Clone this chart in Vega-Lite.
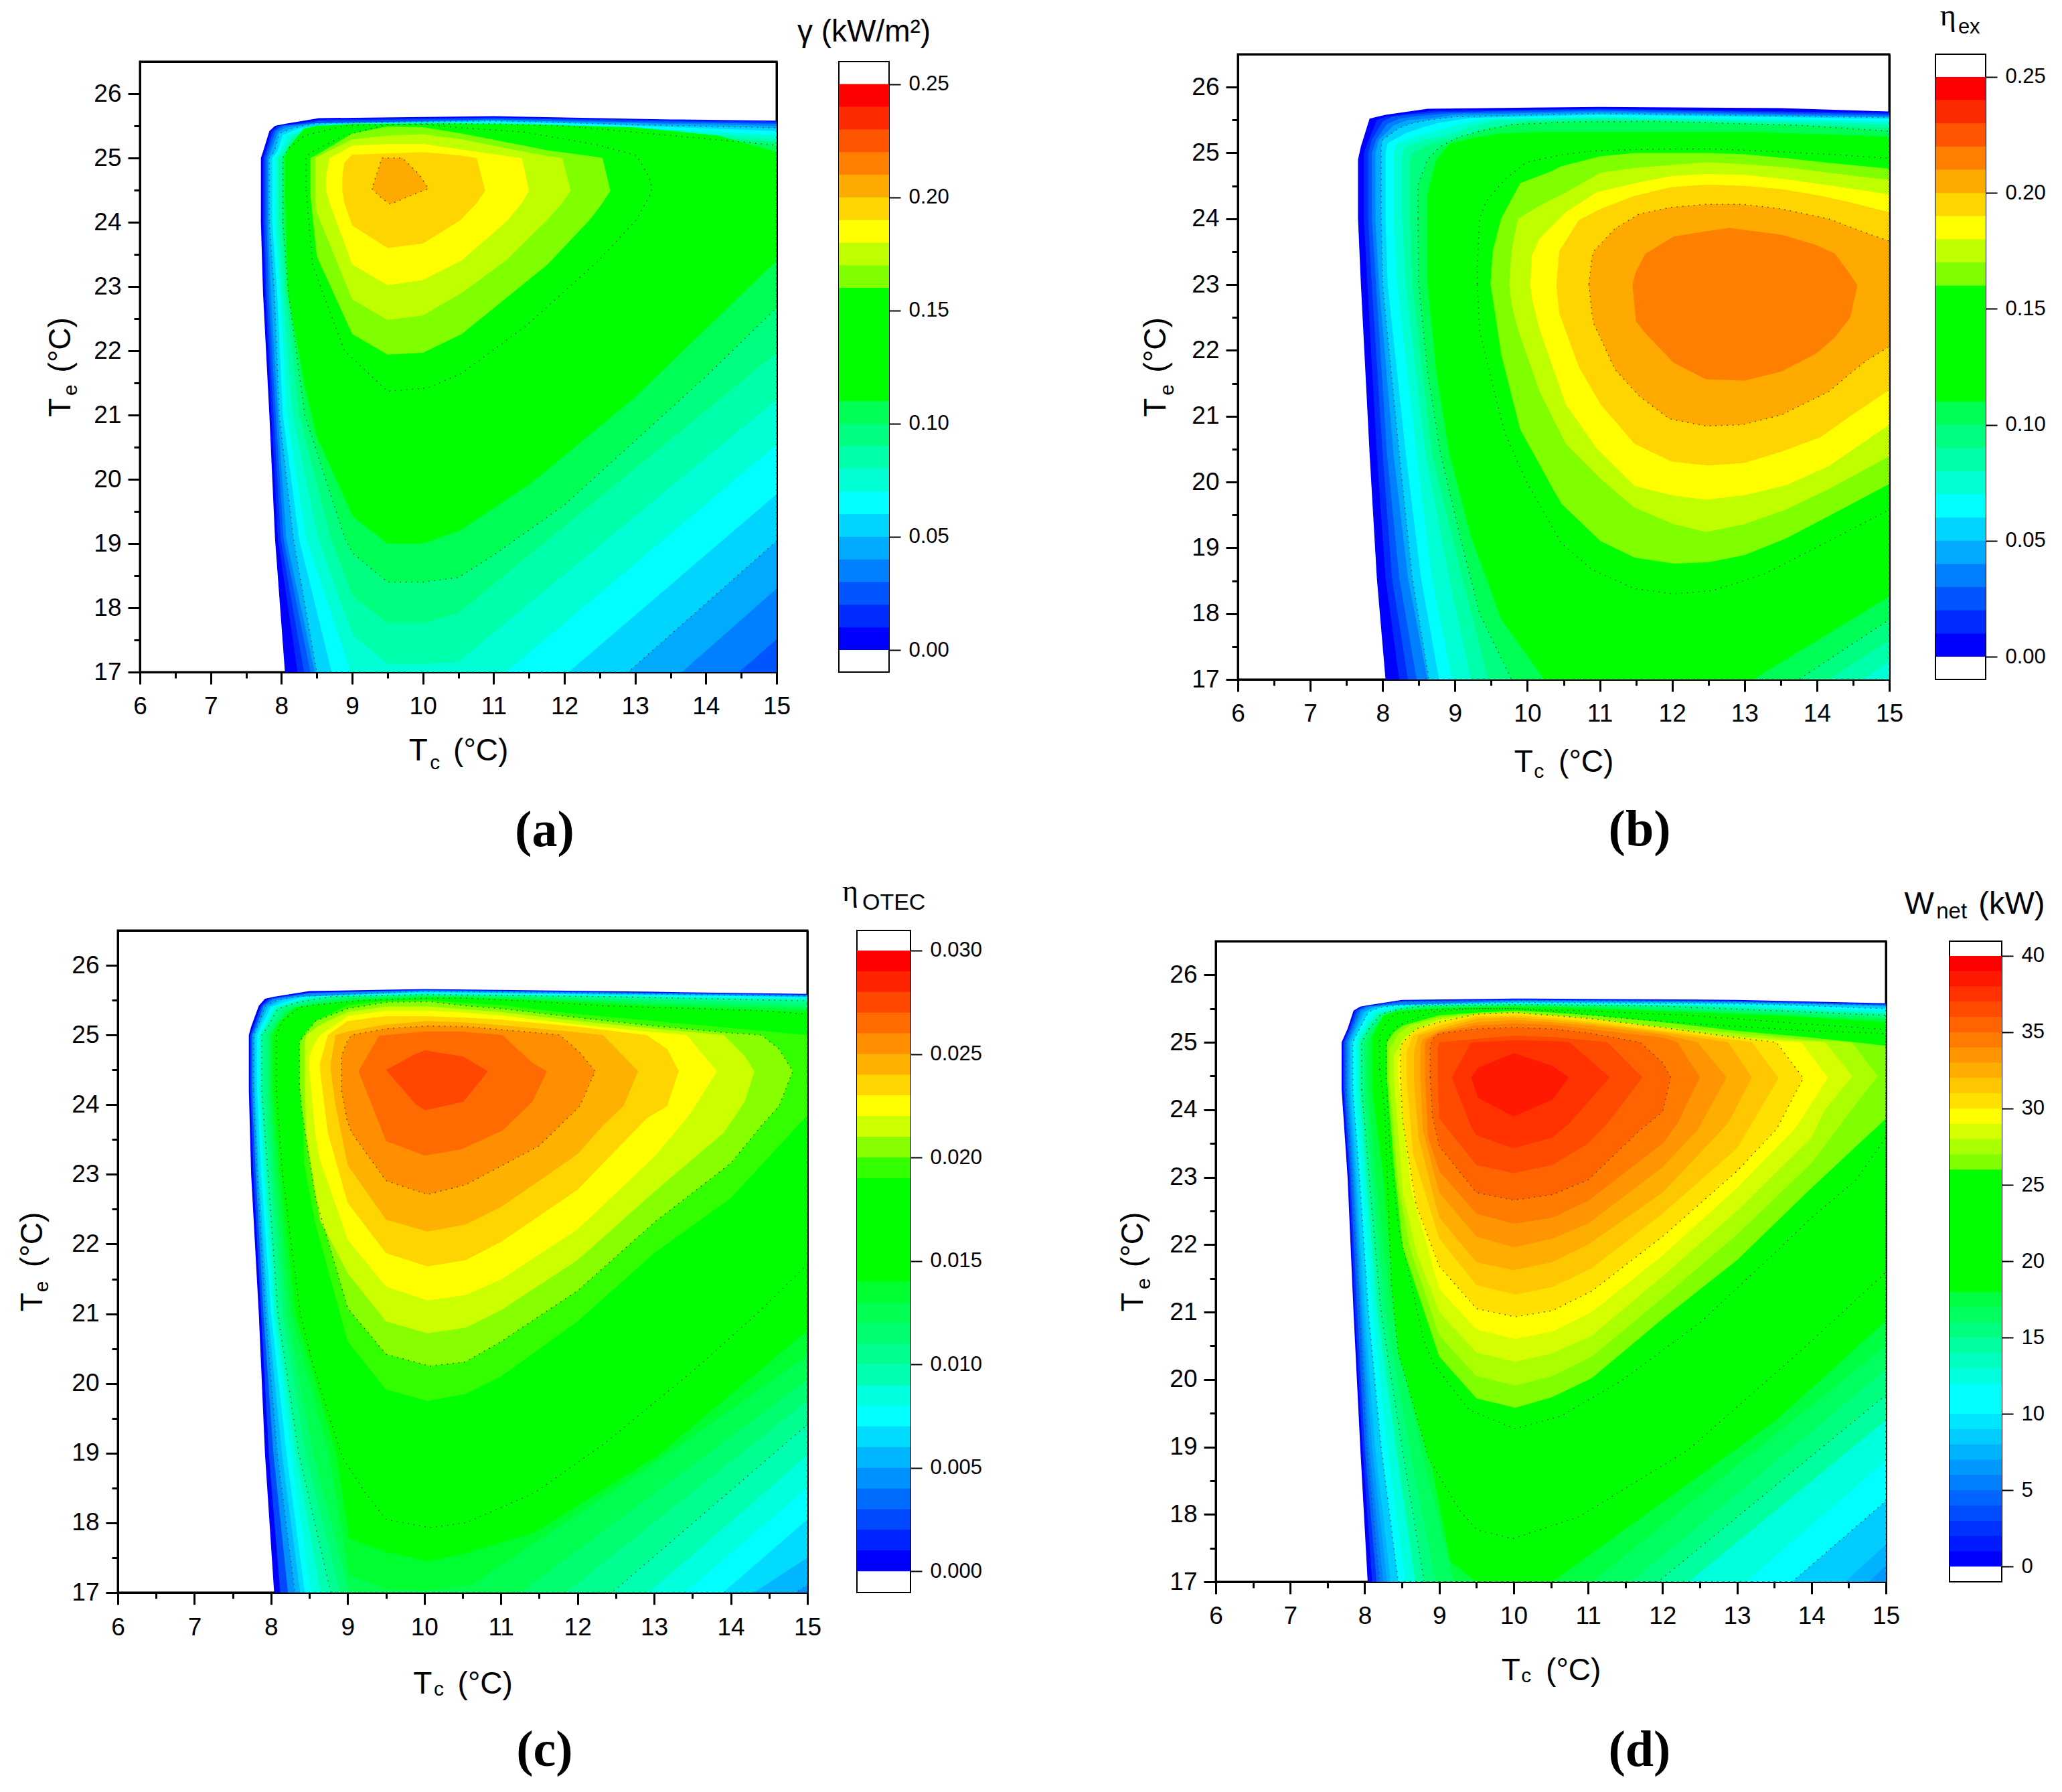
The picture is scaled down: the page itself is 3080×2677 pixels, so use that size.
{"$schema":"https://vega.github.io/schema/vega-lite/v6.json","padding":{"top":0,"left":0,"right":0,"bottom":0},"background":"white","bounds":"full","spacing":26,"resolve":{"scale":{"color":"independent"}},
"config":{"axis":{"grid":false,"labelFont":"Liberation Sans","titleFont":"Liberation Sans","labelFontSize":37,"titleFontSize":46,"titleFontWeight":"normal","labelColor":"black","titleColor":"black","tickColor":"black","domainColor":"black","tickWidth":3,"domainWidth":3,"labelFlush":false,"labelOverlap":false,"zindex":1}},
"datasets":{
"a":[
{"v":0,"x":7.71,"l":24,"h":25},{"v":0,"x":7.74,"l":22.9,"h":25.1},{"v":0,"x":7.83,"l":21,"h":25.42},{"v":0,"x":7.91,"l":19.07,"h":25.5},{"v":0,"x":8.05,"l":17,"h":25.53},{"v":0,"x":8.53,"l":17,"h":25.62},{"v":0,"x":11,"l":17,"h":25.65},{"v":0,"x":13.5,"l":17,"h":25.6},{"v":0,"x":15,"l":17,"h":25.58},
{"v":0.01,"x":7.74,"l":24,"h":25},{"v":0.01,"x":7.77,"l":22.9,"h":25.1},{"v":0.01,"x":7.86,"l":21,"h":25.42},{"v":0.01,"x":7.95,"l":19.07,"h":25.5},{"v":0.01,"x":8.23,"l":17,"h":25.54},{"v":0.01,"x":8.55,"l":17,"h":25.6},{"v":0.01,"x":11,"l":17,"h":25.63},{"v":0.01,"x":13.5,"l":17,"h":25.59},{"v":0.01,"x":15,"l":17,"h":25.57},
{"v":0.02,"x":7.76,"l":24,"h":25},{"v":0.02,"x":7.79,"l":22.9,"h":25.1},{"v":0.02,"x":7.89,"l":21,"h":25.42},{"v":0.02,"x":7.99,"l":19.07,"h":25.5},{"v":0.02,"x":8.32,"l":17,"h":25.54},{"v":0.02,"x":8.55,"l":17,"h":25.58},{"v":0.02,"x":11,"l":17,"h":25.62},{"v":0.02,"x":13.5,"l":17,"h":25.57},{"v":0.02,"x":15,"l":17,"h":25.55},
{"v":0.03,"x":7.79,"l":24,"h":25},{"v":0.03,"x":7.82,"l":22.9,"h":25.1},{"v":0.03,"x":7.92,"l":21,"h":25.42},{"v":0.03,"x":8.03,"l":19.07,"h":25.5},{"v":0.03,"x":8.41,"l":17,"h":25.54},{"v":0.03,"x":11,"l":17,"h":25.6},{"v":0.03,"x":13.5,"l":17,"h":25.55},{"v":0.03,"x":14.47,"l":17,"h":25.54},{"v":0.03,"x":15,"l":17.51,"h":25.53},
{"v":0.04,"x":7.81,"l":24,"h":25},{"v":0.04,"x":7.85,"l":22.9,"h":25.1},{"v":0.04,"x":7.95,"l":21,"h":25.4},{"v":0.04,"x":8.07,"l":19.07,"h":25.48},{"v":0.04,"x":8.47,"l":17,"h":25.54},{"v":0.04,"x":11,"l":17,"h":25.59},{"v":0.04,"x":13.5,"l":17,"h":25.53},{"v":0.04,"x":13.66,"l":17,"h":25.53},{"v":0.04,"x":15,"l":18.3,"h":25.5},
{"v":0.05,"x":7.83,"l":24,"h":25},{"v":0.05,"x":7.9,"l":22.9,"h":25.1},{"v":0.05,"x":7.97,"l":21,"h":25.38},{"v":0.05,"x":8.17,"l":19.07,"h":25.47},{"v":0.05,"x":8.5,"l":17,"h":25.54},{"v":0.05,"x":11,"l":17,"h":25.58},{"v":0.05,"x":12.9,"l":17,"h":25.52},{"v":0.05,"x":15,"l":19.04,"h":25.47},
{"v":0.06,"x":7.87,"l":24,"h":25},{"v":0.06,"x":7.94,"l":22.9,"h":25.1},{"v":0.06,"x":8.02,"l":21,"h":25.36},{"v":0.06,"x":8.25,"l":19.07,"h":25.46},{"v":0.06,"x":8.71,"l":17,"h":25.53},{"v":0.06,"x":11,"l":17,"h":25.57},{"v":0.06,"x":12.06,"l":17,"h":25.54},{"v":0.06,"x":15,"l":19.77,"h":25.42},
{"v":0.07,"x":7.91,"l":24,"h":25},{"v":0.07,"x":7.98,"l":22.9,"h":25.1},{"v":0.07,"x":8.08,"l":21,"h":25.34},{"v":0.07,"x":8.35,"l":19.07,"h":25.46},{"v":0.07,"x":8.98,"l":17,"h":25.52},{"v":0.07,"x":11.18,"l":17,"h":25.56},{"v":0.07,"x":15,"l":20.54,"h":25.36},
{"v":0.08,"x":7.96,"l":24,"h":25},{"v":0.08,"x":8.02,"l":22.9,"h":25.1},{"v":0.08,"x":8.16,"l":21,"h":25.34},{"v":0.08,"x":8.52,"l":19.07,"h":25.5},{"v":0.08,"x":9.01,"l":17.57,"h":25.52},{"v":0.08,"x":9.5,"l":17.13,"h":25.54},{"v":0.08,"x":10,"l":17.13,"h":25.55},{"v":0.08,"x":10.5,"l":17.16,"h":25.55},{"v":0.08,"x":13.5,"l":19.88,"h":25.4},{"v":0.08,"x":15,"l":21.24,"h":25.3},
{"v":0.09,"x":8,"l":24,"h":25},{"v":0.09,"x":8.06,"l":22.9,"h":25.1},{"v":0.09,"x":8.25,"l":21,"h":25.34},{"v":0.09,"x":8.7,"l":19.07,"h":25.5},{"v":0.09,"x":9.01,"l":18.18,"h":25.52},{"v":0.09,"x":9.5,"l":17.76,"h":25.53},{"v":0.09,"x":10,"l":17.76,"h":25.54},{"v":0.09,"x":10.5,"l":17.92,"h":25.54},{"v":0.09,"x":13.5,"l":20.62,"h":25.37},{"v":0.09,"x":15,"l":21.97,"h":25.25},
{"v":0.1,"x":8.02,"l":24,"h":25},{"v":0.1,"x":8.1,"l":22.9,"h":25.15},{"v":0.1,"x":8.33,"l":21,"h":25.35},{"v":0.1,"x":8.9,"l":19.07,"h":25.5},{"v":0.1,"x":9.01,"l":18.85,"h":25.51},{"v":0.1,"x":9.5,"l":18.4,"h":25.52},{"v":0.1,"x":10,"l":18.4,"h":25.53},{"v":0.1,"x":10.5,"l":18.47,"h":25.53},{"v":0.1,"x":11,"l":18.82,"h":25.53},{"v":0.1,"x":12,"l":19.6,"h":25.5},{"v":0.1,"x":13,"l":20.6,"h":25.4},{"v":0.1,"x":14,"l":21.6,"h":25.3},{"v":0.1,"x":15,"l":22.67,"h":25.2},
{"v":0.11,"x":8.05,"l":24.5,"h":25},{"v":0.11,"x":8.09,"l":22.9,"h":25.15},{"v":0.11,"x":8.32,"l":21.5,"h":25.46},{"v":0.11,"x":8.5,"l":20.66,"h":25.5},{"v":0.11,"x":9.01,"l":19.42,"h":25.53},{"v":0.11,"x":9.5,"l":19,"h":25.53},{"v":0.11,"x":10,"l":19,"h":25.53},{"v":0.11,"x":10.52,"l":19.2,"h":25.53},{"v":0.11,"x":11.52,"l":19.93,"h":25.52},{"v":0.11,"x":12.96,"l":21.24,"h":25.48},{"v":0.11,"x":14.17,"l":22.52,"h":25.35},{"v":0.11,"x":15,"l":23.4,"h":25.09},
{"v":0.15,"x":8.35,"l":24.5,"h":25.03},{"v":0.15,"x":8.44,"l":23.34,"h":25.1},{"v":0.15,"x":8.89,"l":22,"h":25.35},{"v":0.15,"x":9.5,"l":21.37,"h":25.52},{"v":0.15,"x":10.07,"l":21.42,"h":25.52},{"v":0.15,"x":10.55,"l":21.65,"h":25.47},{"v":0.15,"x":11.46,"l":22.39,"h":25.4},{"v":0.15,"x":12.48,"l":23.4,"h":25.2},{"v":0.15,"x":13.02,"l":24.04,"h":25.04},{"v":0.15,"x":13.2,"l":24.4,"h":24.7},{"v":0.15,"x":13.24,"l":24.52,"h":24.52},
{"v":0.16,"x":8.41,"l":24.4,"h":25},{"v":0.16,"x":8.5,"l":23.47,"h":25.05},{"v":0.16,"x":9,"l":22.26,"h":25.38},{"v":0.16,"x":9.5,"l":21.94,"h":25.49},{"v":0.16,"x":10,"l":21.97,"h":25.48},{"v":0.16,"x":10.55,"l":22.26,"h":25.38},{"v":0.16,"x":11.76,"l":23.34,"h":25.12},{"v":0.16,"x":12.36,"l":24.04,"h":25.03},{"v":0.16,"x":12.54,"l":24.3,"h":25},{"v":0.16,"x":12.65,"l":24.49,"h":24.49},
{"v":0.17,"x":8.48,"l":24.2,"h":25},{"v":0.17,"x":9,"l":22.8,"h":25.29},{"v":0.17,"x":9.5,"l":22.48,"h":25.35},{"v":0.17,"x":10,"l":22.55,"h":25.37},{"v":0.17,"x":10.55,"l":22.9,"h":25.29},{"v":0.17,"x":11.18,"l":23.41,"h":25.15},{"v":0.17,"x":11.76,"l":24.04,"h":25.03},{"v":0.17,"x":11.97,"l":24.3,"h":25},{"v":0.17,"x":12.09,"l":24.49,"h":24.49},
{"v":0.18,"x":8.63,"l":24.49,"h":24.7},{"v":0.18,"x":8.68,"l":24.3,"h":25},{"v":0.18,"x":9,"l":23.34,"h":25.19},{"v":0.18,"x":9.5,"l":23.02,"h":25.22},{"v":0.18,"x":10,"l":23.1,"h":25.22},{"v":0.18,"x":10.55,"l":23.41,"h":25.13},{"v":0.18,"x":11.18,"l":24.01,"h":25.03},{"v":0.18,"x":11.4,"l":24.3,"h":25},{"v":0.18,"x":11.5,"l":24.49,"h":24.49},
{"v":0.19,"x":8.86,"l":24.49,"h":24.7},{"v":0.19,"x":8.89,"l":24.3,"h":24.93},{"v":0.19,"x":9,"l":23.95,"h":25.05},{"v":0.19,"x":9.5,"l":23.6,"h":25.07},{"v":0.19,"x":10,"l":23.67,"h":25.09},{"v":0.19,"x":10.53,"l":24.03,"h":25.04},{"v":0.19,"x":10.76,"l":24.3,"h":25},{"v":0.19,"x":10.88,"l":24.49,"h":24.49},
{"v":0.2,"x":9.28,"l":24.52,"h":24.52},{"v":0.2,"x":9.42,"l":24.37,"h":25},{"v":0.2,"x":9.54,"l":24.28,"h":25},{"v":0.2,"x":9.71,"l":24.36,"h":25},{"v":0.2,"x":9.95,"l":24.47,"h":24.74},{"v":0.2,"x":10.08,"l":24.52,"h":24.52}],
"b":[
{"v":0,"x":7.66,"l":24,"h":24.9},{"v":0,"x":7.7,"l":23,"h":25.1},{"v":0,"x":7.82,"l":20.43,"h":25.52},{"v":0,"x":7.92,"l":18.54,"h":25.55},{"v":0,"x":8.04,"l":17,"h":25.58},{"v":0,"x":8.62,"l":17,"h":25.67},{"v":0,"x":11,"l":17,"h":25.7},{"v":0,"x":13.5,"l":17,"h":25.68},{"v":0,"x":15,"l":17,"h":25.63},
{"v":0.01,"x":7.74,"l":24,"h":25},{"v":0.01,"x":7.79,"l":23,"h":25.15},{"v":0.01,"x":7.92,"l":20.43,"h":25.5},{"v":0.01,"x":8.04,"l":18.54,"h":25.55},{"v":0.01,"x":8.23,"l":17,"h":25.58},{"v":0.01,"x":8.7,"l":17,"h":25.64},{"v":0.01,"x":11,"l":17,"h":25.67},{"v":0.01,"x":15,"l":17,"h":25.61},
{"v":0.02,"x":7.8,"l":24,"h":25},{"v":0.02,"x":7.85,"l":23,"h":25.2},{"v":0.02,"x":8,"l":20.43,"h":25.48},{"v":0.02,"x":8.13,"l":18.54,"h":25.55},{"v":0.02,"x":8.35,"l":17,"h":25.58},{"v":0.02,"x":8.8,"l":17,"h":25.62},{"v":0.02,"x":11,"l":17,"h":25.66},{"v":0.02,"x":15,"l":17,"h":25.59},
{"v":0.03,"x":7.85,"l":24,"h":25},{"v":0.03,"x":7.91,"l":23,"h":25.2},{"v":0.03,"x":8.06,"l":20.43,"h":25.44},{"v":0.03,"x":8.23,"l":18.54,"h":25.52},{"v":0.03,"x":8.47,"l":17,"h":25.56},{"v":0.03,"x":8.9,"l":17,"h":25.6},{"v":0.03,"x":11,"l":17,"h":25.64},{"v":0.03,"x":15,"l":17,"h":25.57},
{"v":0.04,"x":7.9,"l":24,"h":25},{"v":0.04,"x":7.95,"l":23,"h":25.2},{"v":0.04,"x":8.15,"l":20.43,"h":25.42},{"v":0.04,"x":8.35,"l":18.54,"h":25.5},{"v":0.04,"x":8.62,"l":17,"h":25.52},{"v":0.04,"x":9,"l":17,"h":25.58},{"v":0.04,"x":11,"l":17,"h":25.62},{"v":0.04,"x":15,"l":17,"h":25.55},
{"v":0.05,"x":7.98,"l":24,"h":25.1},{"v":0.05,"x":8,"l":23,"h":25.2},{"v":0.05,"x":8.23,"l":20.43,"h":25.38},{"v":0.05,"x":8.41,"l":18.54,"h":25.45},{"v":0.05,"x":8.64,"l":17,"h":25.5},{"v":0.05,"x":9,"l":17,"h":25.55},{"v":0.05,"x":11,"l":17,"h":25.6},{"v":0.05,"x":15,"l":17,"h":25.54},
{"v":0.06,"x":8.04,"l":24,"h":25},{"v":0.06,"x":8.07,"l":23,"h":25.15},{"v":0.06,"x":8.32,"l":20.43,"h":25.3},{"v":0.06,"x":8.53,"l":18.54,"h":25.38},{"v":0.06,"x":8.78,"l":17,"h":25.46},{"v":0.06,"x":9.2,"l":17,"h":25.53},{"v":0.06,"x":11,"l":17,"h":25.58},{"v":0.06,"x":15,"l":17,"h":25.52},
{"v":0.07,"x":8.15,"l":24,"h":25},{"v":0.07,"x":8.2,"l":23,"h":25.15},{"v":0.07,"x":8.47,"l":20.43,"h":25.25},{"v":0.07,"x":8.68,"l":18.54,"h":25.32},{"v":0.07,"x":8.96,"l":17,"h":25.4},{"v":0.07,"x":9.4,"l":17,"h":25.52},{"v":0.07,"x":11,"l":17,"h":25.55},{"v":0.07,"x":15,"l":17,"h":25.48},
{"v":0.08,"x":8.27,"l":24,"h":24.95},{"v":0.08,"x":8.32,"l":23,"h":25.1},{"v":0.08,"x":8.59,"l":20.43,"h":25.2},{"v":0.08,"x":8.92,"l":18.54,"h":25.28},{"v":0.08,"x":9.22,"l":17,"h":25.4},{"v":0.08,"x":9.6,"l":17,"h":25.5},{"v":0.08,"x":11,"l":17,"h":25.53},{"v":0.08,"x":14.64,"l":17,"h":25.45},{"v":0.08,"x":15,"l":17.28,"h":25.43},
{"v":0.09,"x":8.38,"l":24,"h":24.9},{"v":0.09,"x":8.41,"l":23,"h":25},{"v":0.09,"x":8.68,"l":20.43,"h":25.15},{"v":0.09,"x":9.1,"l":18.54,"h":25.25},{"v":0.09,"x":9.46,"l":17,"h":25.38},{"v":0.09,"x":10,"l":17,"h":25.48},{"v":0.09,"x":11,"l":17,"h":25.5},{"v":0.09,"x":14.16,"l":17,"h":25.42},{"v":0.09,"x":15,"l":17.6,"h":25.38},
{"v":0.1,"x":8.49,"l":24,"h":24.5},{"v":0.1,"x":8.5,"l":23,"h":24.55},{"v":0.1,"x":8.62,"l":21.68,"h":24.9},{"v":0.1,"x":8.8,"l":20.43,"h":25.1},{"v":0.1,"x":8.98,"l":19.6,"h":25.2},{"v":0.1,"x":9.07,"l":19.17,"h":25.25},{"v":0.1,"x":9.34,"l":18,"h":25.33},{"v":0.1,"x":9.78,"l":17,"h":25.43},{"v":0.1,"x":10.59,"l":17,"h":25.47},{"v":0.1,"x":11.78,"l":17,"h":25.48},{"v":0.1,"x":13.75,"l":17,"h":25.42},{"v":0.1,"x":15,"l":17.91,"h":25.33},
{"v":0.11,"x":8.62,"l":23,"h":24.4},{"v":0.11,"x":8.74,"l":21.68,"h":24.89},{"v":0.11,"x":8.92,"l":20.43,"h":25.14},{"v":0.11,"x":9.22,"l":19.17,"h":25.22},{"v":0.11,"x":9.64,"l":17.91,"h":25.3},{"v":0.11,"x":10.23,"l":17,"h":25.32},{"v":0.11,"x":11,"l":17,"h":25.32},{"v":0.11,"x":13.12,"l":17,"h":25.32},{"v":0.11,"x":15,"l":18.26,"h":25.25},
{"v":0.15,"x":9.31,"l":23,"h":23.3},{"v":0.15,"x":9.34,"l":22.3,"h":24.01},{"v":0.15,"x":9.43,"l":21.87,"h":24.26},{"v":0.15,"x":9.69,"l":20.74,"h":24.6},{"v":0.15,"x":9.99,"l":20,"h":24.86},{"v":0.15,"x":10.47,"l":19.07,"h":24.97},{"v":0.15,"x":10.89,"l":18.67,"h":25.03},{"v":0.15,"x":11.48,"l":18.38,"h":25.05},{"v":0.15,"x":12.02,"l":18.3,"h":25.06},{"v":0.15,"x":12.56,"l":18.35,"h":25.06},{"v":0.15,"x":13.27,"l":18.6,"h":25.03},{"v":0.15,"x":14.16,"l":19.1,"h":24.98},{"v":0.15,"x":15,"l":19.58,"h":24.92},
{"v":0.16,"x":9.49,"l":23,"h":23},{"v":0.16,"x":9.52,"l":22.8,"h":23.51},{"v":0.16,"x":9.64,"l":21.93,"h":24.01},{"v":0.16,"x":9.9,"l":20.8,"h":24.54},{"v":0.16,"x":10.35,"l":19.9,"h":24.73},{"v":0.16,"x":10.47,"l":19.67,"h":24.8},{"v":0.16,"x":11.01,"l":19.1,"h":24.95},{"v":0.16,"x":11.48,"l":18.85,"h":25},{"v":0.16,"x":12.02,"l":18.76,"h":25},{"v":0.16,"x":12.5,"l":18.78,"h":25},{"v":0.16,"x":13,"l":18.89,"h":24.98},{"v":0.16,"x":13.57,"l":19.14,"h":24.92},{"v":0.16,"x":14.16,"l":19.48,"h":24.85},{"v":0.16,"x":15,"l":19.97,"h":24.76},
{"v":0.17,"x":9.75,"l":23,"h":23},{"v":0.17,"x":9.78,"l":22.7,"h":23.51},{"v":0.17,"x":9.87,"l":22.31,"h":24},{"v":0.17,"x":10.17,"l":21.37,"h":24.2},{"v":0.17,"x":10.53,"l":20.58,"h":24.4},{"v":0.17,"x":11.01,"l":20.05,"h":24.7},{"v":0.17,"x":11.48,"l":19.61,"h":24.77},{"v":0.17,"x":12.02,"l":19.36,"h":24.82},{"v":0.17,"x":12.47,"l":19.24,"h":24.86},{"v":0.17,"x":13,"l":19.36,"h":24.83},{"v":0.17,"x":13.57,"l":19.58,"h":24.78},{"v":0.17,"x":14.16,"l":19.89,"h":24.7},{"v":0.17,"x":15,"l":20.39,"h":24.59},
{"v":0.18,"x":10.04,"l":23,"h":23},{"v":0.18,"x":10.06,"l":22.8,"h":23.44},{"v":0.18,"x":10.17,"l":22.31,"h":23.7},{"v":0.18,"x":10.53,"l":21.18,"h":24.1},{"v":0.18,"x":10.95,"l":20.52,"h":24.4},{"v":0.18,"x":11.48,"l":19.94,"h":24.54},{"v":0.18,"x":11.99,"l":19.8,"h":24.65},{"v":0.18,"x":12.47,"l":19.73,"h":24.68},{"v":0.18,"x":13,"l":19.8,"h":24.67},{"v":0.18,"x":13.57,"l":19.95,"h":24.6},{"v":0.18,"x":14.16,"l":20.24,"h":24.51},{"v":0.18,"x":15,"l":20.87,"h":24.37},
{"v":0.19,"x":10.4,"l":23,"h":23},{"v":0.19,"x":10.44,"l":22.56,"h":23.51},{"v":0.19,"x":10.71,"l":21.75,"h":23.98},{"v":0.19,"x":11.01,"l":21.18,"h":24.15},{"v":0.19,"x":11.48,"l":20.58,"h":24.35},{"v":0.19,"x":11.99,"l":20.31,"h":24.48},{"v":0.19,"x":12.5,"l":20.25,"h":24.52},{"v":0.19,"x":13,"l":20.29,"h":24.5},{"v":0.19,"x":13.51,"l":20.46,"h":24.45},{"v":0.19,"x":14.05,"l":20.68,"h":24.35},{"v":0.19,"x":14.46,"l":21,"h":24.25},{"v":0.19,"x":15,"l":21.4,"h":24.1},
{"v":0.2,"x":10.85,"l":23,"h":23},{"v":0.2,"x":10.89,"l":22.56,"h":23.4},{"v":0.2,"x":10.92,"l":22.4,"h":23.51},{"v":0.2,"x":11.21,"l":21.71,"h":23.85},{"v":0.2,"x":11.54,"l":21.31,"h":24.07},{"v":0.2,"x":11.96,"l":20.96,"h":24.17},{"v":0.2,"x":12.47,"l":20.85,"h":24.22},{"v":0.2,"x":12.97,"l":20.87,"h":24.22},{"v":0.2,"x":13.51,"l":21.02,"h":24.15},{"v":0.2,"x":14.16,"l":21.37,"h":24},{"v":0.2,"x":14.64,"l":21.81,"h":23.8},{"v":0.2,"x":15,"l":22.06,"h":23.66},
{"v":0.21,"x":11.45,"l":23,"h":23},{"v":0.21,"x":11.5,"l":22.44,"h":23.2},{"v":0.21,"x":11.63,"l":22.26,"h":23.47},{"v":0.21,"x":12.02,"l":21.81,"h":23.73},{"v":0.21,"x":12.47,"l":21.56,"h":23.81},{"v":0.21,"x":12.79,"l":21.55,"h":23.86},{"v":0.21,"x":13,"l":21.54,"h":23.83},{"v":0.21,"x":13.51,"l":21.68,"h":23.76},{"v":0.21,"x":13.99,"l":21.95,"h":23.6},{"v":0.21,"x":14.25,"l":22.2,"h":23.47},{"v":0.21,"x":14.46,"l":22.5,"h":23.15},{"v":0.21,"x":14.56,"l":22.99,"h":22.99}],
"c":[
{"v":0,"x":7.71,"l":24.2,"h":25},{"v":0,"x":7.74,"l":23,"h":25.12},{"v":0,"x":7.84,"l":21,"h":25.42},{"v":0,"x":7.92,"l":19,"h":25.52},{"v":0,"x":8.04,"l":17,"h":25.55},{"v":0,"x":8.5,"l":17,"h":25.63},{"v":0,"x":10,"l":17,"h":25.66},{"v":0,"x":13,"l":17,"h":25.62},{"v":0,"x":15,"l":17,"h":25.59},
{"v":0.002,"x":7.73,"l":24.2,"h":25},{"v":0.002,"x":7.77,"l":23,"h":25.12},{"v":0.002,"x":7.87,"l":21,"h":25.42},{"v":0.002,"x":7.97,"l":19,"h":25.52},{"v":0.002,"x":8.12,"l":17,"h":25.55},{"v":0.002,"x":8.5,"l":17,"h":25.61},{"v":0.002,"x":10,"l":17,"h":25.65},{"v":0.002,"x":13,"l":17,"h":25.61},{"v":0.002,"x":15,"l":17,"h":25.58},
{"v":0.004,"x":7.75,"l":24.2,"h":25},{"v":0.004,"x":7.8,"l":23,"h":25.12},{"v":0.004,"x":7.9,"l":21,"h":25.42},{"v":0.004,"x":8.03,"l":19,"h":25.52},{"v":0.004,"x":8.22,"l":17,"h":25.55},{"v":0.004,"x":8.5,"l":17,"h":25.6},{"v":0.004,"x":10,"l":17,"h":25.64},{"v":0.004,"x":13,"l":17,"h":25.6},{"v":0.004,"x":15,"l":17,"h":25.57},
{"v":0.005,"x":7.77,"l":24.2,"h":25},{"v":0.005,"x":7.82,"l":23,"h":25.12},{"v":0.005,"x":7.93,"l":21,"h":25.42},{"v":0.005,"x":8.08,"l":19,"h":25.5},{"v":0.005,"x":8.31,"l":17,"h":25.55},{"v":0.005,"x":10,"l":17,"h":25.63},{"v":0.005,"x":13,"l":17,"h":25.59},{"v":0.005,"x":14.84,"l":17,"h":25.56},{"v":0.005,"x":15,"l":17.1,"h":25.56},
{"v":0.006,"x":7.79,"l":24.2,"h":25},{"v":0.006,"x":7.84,"l":23,"h":25.12},{"v":0.006,"x":7.96,"l":21,"h":25.4},{"v":0.006,"x":8.14,"l":19,"h":25.5},{"v":0.006,"x":8.38,"l":17,"h":25.55},{"v":0.006,"x":10,"l":17,"h":25.62},{"v":0.006,"x":13,"l":17,"h":25.58},{"v":0.006,"x":14.3,"l":17,"h":25.56},{"v":0.006,"x":15,"l":17.5,"h":25.55},
{"v":0.007,"x":7.82,"l":24.2,"h":25},{"v":0.007,"x":7.87,"l":23,"h":25.12},{"v":0.007,"x":8,"l":21,"h":25.4},{"v":0.007,"x":8.2,"l":19,"h":25.48},{"v":0.007,"x":8.44,"l":17,"h":25.55},{"v":0.007,"x":10,"l":17,"h":25.61},{"v":0.007,"x":13,"l":17,"h":25.57},{"v":0.007,"x":13.9,"l":17,"h":25.56},{"v":0.007,"x":15,"l":18.05,"h":25.54},
{"v":0.008,"x":7.84,"l":24.2,"h":25},{"v":0.008,"x":7.9,"l":23,"h":25.12},{"v":0.008,"x":8.03,"l":21,"h":25.4},{"v":0.008,"x":8.26,"l":19,"h":25.48},{"v":0.008,"x":8.52,"l":17,"h":25.55},{"v":0.008,"x":10,"l":17,"h":25.6},{"v":0.008,"x":13,"l":17,"h":25.56},{"v":0.008,"x":13.4,"l":17,"h":25.55},{"v":0.008,"x":15,"l":18.5,"h":25.53},
{"v":0.009,"x":7.86,"l":24.2,"h":25},{"v":0.009,"x":7.93,"l":23,"h":25.12},{"v":0.009,"x":8.06,"l":21,"h":25.38},{"v":0.009,"x":8.32,"l":19,"h":25.48},{"v":0.009,"x":8.65,"l":17,"h":25.55},{"v":0.009,"x":10,"l":17,"h":25.59},{"v":0.009,"x":12.93,"l":17,"h":25.55},{"v":0.009,"x":15,"l":18.97,"h":25.51},
{"v":0.01,"x":7.88,"l":24.2,"h":25},{"v":0.01,"x":7.96,"l":23,"h":25.12},{"v":0.01,"x":8.09,"l":21,"h":25.38},{"v":0.01,"x":8.36,"l":19,"h":25.47},{"v":0.01,"x":8.78,"l":17,"h":25.55},{"v":0.01,"x":10,"l":17,"h":25.58},{"v":0.01,"x":12.45,"l":17,"h":25.55},{"v":0.01,"x":15,"l":19.41,"h":25.49},
{"v":0.011,"x":7.93,"l":24.2,"h":25},{"v":0.011,"x":8,"l":23,"h":25.12},{"v":0.011,"x":8.15,"l":21,"h":25.38},{"v":0.011,"x":8.45,"l":19,"h":25.47},{"v":0.011,"x":8.9,"l":17,"h":25.54},{"v":0.011,"x":10,"l":17,"h":25.57},{"v":0.011,"x":11.85,"l":17,"h":25.54},{"v":0.011,"x":15,"l":19.75,"h":25.45},
{"v":0.012,"x":7.97,"l":24.2,"h":25},{"v":0.012,"x":8.04,"l":23,"h":25.12},{"v":0.012,"x":8.2,"l":21,"h":25.36},{"v":0.012,"x":8.55,"l":19,"h":25.46},{"v":0.012,"x":9.02,"l":17,"h":25.53},{"v":0.012,"x":10,"l":17,"h":25.56},{"v":0.012,"x":11.26,"l":17,"h":25.54},{"v":0.012,"x":15,"l":20.05,"h":25.4},
{"v":0.013,"x":8,"l":24.2,"h":25},{"v":0.013,"x":8.08,"l":23,"h":25.15},{"v":0.013,"x":8.26,"l":21,"h":25.36},{"v":0.013,"x":8.75,"l":19,"h":25.46},{"v":0.013,"x":9.02,"l":17.25,"h":25.5},{"v":0.013,"x":9.5,"l":17.05,"h":25.53},{"v":0.013,"x":10,"l":17.03,"h":25.55},{"v":0.013,"x":10.6,"l":17.1,"h":25.54},{"v":0.013,"x":13,"l":18.85,"h":25.44},{"v":0.013,"x":15,"l":20.4,"h":25.37},
{"v":0.014,"x":8.03,"l":24.2,"h":25},{"v":0.014,"x":8.12,"l":23,"h":25.2},{"v":0.014,"x":8.32,"l":21,"h":25.4},{"v":0.014,"x":8.85,"l":19,"h":25.46},{"v":0.014,"x":9.02,"l":17.77,"h":25.48},{"v":0.014,"x":9.5,"l":17.58,"h":25.5},{"v":0.014,"x":10.04,"l":17.45,"h":25.54},{"v":0.014,"x":10.5,"l":17.55,"h":25.54},{"v":0.014,"x":11.44,"l":17.86,"h":25.5},{"v":0.014,"x":13.05,"l":18.97,"h":25.41},{"v":0.014,"x":15,"l":20.76,"h":25.33},
{"v":0.015,"x":8.07,"l":24.2,"h":25},{"v":0.015,"x":8.15,"l":23,"h":25.2},{"v":0.015,"x":8.38,"l":21,"h":25.4},{"v":0.015,"x":8.55,"l":20.26,"h":25.43},{"v":0.015,"x":8.93,"l":18.94,"h":25.47},{"v":0.015,"x":9.23,"l":18.43,"h":25.5},{"v":0.015,"x":9.5,"l":18.05,"h":25.51},{"v":0.015,"x":10.07,"l":17.93,"h":25.53},{"v":0.015,"x":10.54,"l":18,"h":25.53},{"v":0.015,"x":11.44,"l":18.43,"h":25.48},{"v":0.015,"x":12.33,"l":19.12,"h":25.42},{"v":0.015,"x":13.53,"l":20.2,"h":25.38},{"v":0.015,"x":14.36,"l":21.02,"h":25.35},{"v":0.015,"x":15,"l":21.71,"h":25.3},
{"v":0.019,"x":8.4,"l":24.5,"h":24.9},{"v":0.019,"x":8.43,"l":23.16,"h":25.02},{"v":0.019,"x":8.58,"l":22.28,"h":25.2},{"v":0.019,"x":9,"l":20.6,"h":25.43},{"v":0.019,"x":9.5,"l":19.91,"h":25.49},{"v":0.019,"x":10.04,"l":19.75,"h":25.5},{"v":0.019,"x":10.54,"l":19.85,"h":25.46},{"v":0.019,"x":11,"l":20.1,"h":25.43},{"v":0.019,"x":12,"l":20.89,"h":25.3},{"v":0.019,"x":13,"l":21.87,"h":25.2},{"v":0.019,"x":14,"l":22.66,"h":25.1},{"v":0.019,"x":15,"l":23.85,"h":25},
{"v":0.02,"x":8.37,"l":24.3,"h":24.9},{"v":0.02,"x":8.4,"l":23.92,"h":24.95},{"v":0.02,"x":8.58,"l":22.66,"h":25.2},{"v":0.02,"x":9,"l":21.08,"h":25.38},{"v":0.02,"x":9.5,"l":20.42,"h":25.47},{"v":0.02,"x":10.07,"l":20.25,"h":25.48},{"v":0.02,"x":10.54,"l":20.31,"h":25.42},{"v":0.02,"x":11,"l":20.6,"h":25.38},{"v":0.02,"x":12,"l":21.33,"h":25.25},{"v":0.02,"x":13,"l":22.31,"h":25.13},{"v":0.02,"x":14,"l":23.16,"h":25.03},{"v":0.02,"x":14.4,"l":23.7,"h":25},{"v":0.02,"x":14.63,"l":23.98,"h":24.8},{"v":0.02,"x":14.81,"l":24.48,"h":24.48},
{"v":0.021,"x":8.44,"l":24.3,"h":24.9},{"v":0.021,"x":8.46,"l":23.54,"h":25},{"v":0.021,"x":8.64,"l":22.34,"h":25.15},{"v":0.021,"x":9,"l":21.58,"h":25.33},{"v":0.021,"x":9.5,"l":20.89,"h":25.41},{"v":0.021,"x":10.04,"l":20.72,"h":25.41},{"v":0.021,"x":10.54,"l":20.8,"h":25.37},{"v":0.021,"x":11,"l":21.05,"h":25.33},{"v":0.021,"x":12,"l":21.77,"h":25.2},{"v":0.021,"x":13,"l":22.75,"h":25.09},{"v":0.021,"x":13.91,"l":23.6,"h":25},{"v":0.021,"x":14.18,"l":24.04,"h":24.7},{"v":0.021,"x":14.31,"l":24.48,"h":24.48},
{"v":0.022,"x":8.5,"l":24.48,"h":24.7},{"v":0.022,"x":8.58,"l":23.54,"h":24.9},{"v":0.022,"x":8.64,"l":23.2,"h":25},{"v":0.022,"x":9,"l":22.06,"h":25.27},{"v":0.022,"x":9.5,"l":21.39,"h":25.35},{"v":0.022,"x":10.04,"l":21.19,"h":25.35},{"v":0.022,"x":10.54,"l":21.27,"h":25.32},{"v":0.022,"x":11,"l":21.49,"h":25.28},{"v":0.022,"x":12,"l":22.21,"h":25.15},{"v":0.022,"x":13,"l":23.25,"h":25.04},{"v":0.022,"x":13.42,"l":23.8,"h":25},{"v":0.022,"x":13.5,"l":23.92,"h":24.9},{"v":0.022,"x":13.82,"l":24.48,"h":24.48},
{"v":0.023,"x":8.64,"l":24.48,"h":24.6},{"v":0.023,"x":8.74,"l":23.6,"h":25},{"v":0.023,"x":9,"l":22.59,"h":25.2},{"v":0.023,"x":9.5,"l":21.87,"h":25.27},{"v":0.023,"x":10.04,"l":21.68,"h":25.27},{"v":0.023,"x":10.54,"l":21.77,"h":25.25},{"v":0.023,"x":11,"l":22.03,"h":25.22},{"v":0.023,"x":12,"l":22.78,"h":25.12},{"v":0.023,"x":12.9,"l":23.8,"h":25},{"v":0.023,"x":13.17,"l":23.98,"h":24.8},{"v":0.023,"x":13.32,"l":24.48,"h":24.48},
{"v":0.024,"x":8.78,"l":24.48,"h":24.6},{"v":0.024,"x":8.84,"l":24,"h":25},{"v":0.024,"x":9,"l":23.13,"h":25.05},{"v":0.024,"x":9.5,"l":22.35,"h":25.15},{"v":0.024,"x":10.04,"l":22.18,"h":25.2},{"v":0.024,"x":10.54,"l":22.28,"h":25.18},{"v":0.024,"x":11,"l":22.53,"h":25.14},{"v":0.024,"x":12,"l":23.29,"h":25.04},{"v":0.024,"x":12.33,"l":23.7,"h":25},{"v":0.024,"x":12.6,"l":23.98,"h":24.7},{"v":0.024,"x":12.79,"l":24.48,"h":24.48},
{"v":0.025,"x":8.92,"l":24.2,"h":24.7},{"v":0.025,"x":8.99,"l":23.79,"h":24.9},{"v":0.025,"x":9.05,"l":23.6,"h":25},{"v":0.025,"x":9.5,"l":22.91,"h":25.09},{"v":0.025,"x":10.04,"l":22.71,"h":25.13},{"v":0.025,"x":10.54,"l":22.85,"h":25.12},{"v":0.025,"x":11.5,"l":23.41,"h":25.03},{"v":0.025,"x":11.77,"l":23.7,"h":25},{"v":0.025,"x":12.03,"l":23.98,"h":24.75},{"v":0.025,"x":12.23,"l":24.48,"h":24.48},
{"v":0.026,"x":9.14,"l":24.48,"h":24.48},{"v":0.026,"x":9.41,"l":23.73,"h":24.99},{"v":0.026,"x":9.5,"l":23.48,"h":25},{"v":0.026,"x":10.01,"l":23.27,"h":25.05},{"v":0.026,"x":10.48,"l":23.36,"h":25.05},{"v":0.026,"x":11.02,"l":23.63,"h":25},{"v":0.026,"x":11.41,"l":24.04,"h":24.6},{"v":0.026,"x":11.6,"l":24.48,"h":24.48},
{"v":0.027,"x":9.5,"l":24.5,"h":24.5},{"v":0.027,"x":9.89,"l":24,"h":24.73},{"v":0.027,"x":10.01,"l":23.92,"h":24.78},{"v":0.027,"x":10.51,"l":24.04,"h":24.69},{"v":0.027,"x":10.83,"l":24.48,"h":24.48}],
"d":[
{"v":0,"x":7.69,"l":24.3,"h":25},{"v":0,"x":7.77,"l":23,"h":25.2},{"v":0,"x":7.85,"l":21,"h":25.47},{"v":0,"x":7.94,"l":19,"h":25.53},{"v":0,"x":8.04,"l":17,"h":25.55},{"v":0,"x":8.5,"l":17,"h":25.63},{"v":0,"x":10,"l":17,"h":25.65},{"v":0,"x":13,"l":17,"h":25.63},{"v":0,"x":15,"l":17,"h":25.58},
{"v":2,"x":7.71,"l":24.3,"h":25},{"v":2,"x":7.79,"l":23,"h":25.2},{"v":2,"x":7.87,"l":21,"h":25.47},{"v":2,"x":7.97,"l":19,"h":25.53},{"v":2,"x":8.1,"l":17,"h":25.55},{"v":2,"x":8.5,"l":17,"h":25.62},{"v":2,"x":10,"l":17,"h":25.64},{"v":2,"x":13,"l":17,"h":25.62},{"v":2,"x":15,"l":17,"h":25.57},
{"v":4,"x":7.73,"l":24.3,"h":25},{"v":4,"x":7.81,"l":23,"h":25.2},{"v":4,"x":7.9,"l":21,"h":25.47},{"v":4,"x":8,"l":19,"h":25.53},{"v":4,"x":8.16,"l":17,"h":25.55},{"v":4,"x":8.5,"l":17,"h":25.61},{"v":4,"x":10,"l":17,"h":25.63},{"v":4,"x":13,"l":17,"h":25.61},{"v":4,"x":15,"l":17,"h":25.56},
{"v":5,"x":7.75,"l":24.3,"h":25},{"v":5,"x":7.83,"l":23,"h":25.2},{"v":5,"x":7.93,"l":21,"h":25.47},{"v":5,"x":8.03,"l":19,"h":25.53},{"v":5,"x":8.2,"l":17,"h":25.55},{"v":5,"x":8.5,"l":17,"h":25.6},{"v":5,"x":10,"l":17,"h":25.62},{"v":5,"x":13,"l":17,"h":25.6},{"v":5,"x":15,"l":17,"h":25.55},
{"v":6,"x":7.77,"l":24.3,"h":25},{"v":6,"x":7.85,"l":23,"h":25.2},{"v":6,"x":7.95,"l":21,"h":25.47},{"v":6,"x":8.06,"l":19,"h":25.53},{"v":6,"x":8.25,"l":17,"h":25.55},{"v":6,"x":10,"l":17,"h":25.62},{"v":6,"x":13,"l":17,"h":25.6},{"v":6,"x":15,"l":17,"h":25.55},
{"v":7,"x":7.79,"l":24.3,"h":25},{"v":7,"x":7.87,"l":23,"h":25.2},{"v":7,"x":7.97,"l":21,"h":25.45},{"v":7,"x":8.1,"l":19,"h":25.52},{"v":7,"x":8.3,"l":17,"h":25.55},{"v":7,"x":10,"l":17,"h":25.61},{"v":7,"x":13,"l":17,"h":25.59},{"v":7,"x":14.77,"l":17,"h":25.55},{"v":7,"x":15,"l":17.24,"h":25.54},
{"v":8,"x":7.81,"l":24.3,"h":25},{"v":8,"x":7.89,"l":23,"h":25.2},{"v":8,"x":8,"l":21,"h":25.45},{"v":8,"x":8.14,"l":19,"h":25.52},{"v":8,"x":8.35,"l":17,"h":25.55},{"v":8,"x":10,"l":17,"h":25.6},{"v":8,"x":13,"l":17,"h":25.58},{"v":8,"x":14.45,"l":17,"h":25.55},{"v":8,"x":15,"l":17.55,"h":25.53},
{"v":10,"x":7.84,"l":24.3,"h":25},{"v":10,"x":7.93,"l":23,"h":25.2},{"v":10,"x":8.05,"l":21,"h":25.45},{"v":10,"x":8.22,"l":19,"h":25.52},{"v":10,"x":8.45,"l":17,"h":25.55},{"v":10,"x":10,"l":17,"h":25.59},{"v":10,"x":13,"l":17,"h":25.57},{"v":10,"x":13.74,"l":17,"h":25.55},{"v":10,"x":15,"l":18.2,"h":25.5},
{"v":12,"x":7.88,"l":24.3,"h":25},{"v":12,"x":7.97,"l":23,"h":25.2},{"v":12,"x":8.11,"l":21,"h":25.42},{"v":12,"x":8.3,"l":19,"h":25.5},{"v":12,"x":8.55,"l":17,"h":25.55},{"v":12,"x":10,"l":17,"h":25.58},{"v":12,"x":13.12,"l":17,"h":25.55},{"v":12,"x":15,"l":18.8,"h":25.47},
{"v":14,"x":7.93,"l":24.3,"h":25},{"v":14,"x":8.02,"l":23,"h":25.2},{"v":14,"x":8.17,"l":21,"h":25.42},{"v":14,"x":8.42,"l":19,"h":25.5},{"v":14,"x":8.68,"l":17,"h":25.55},{"v":14,"x":10,"l":17,"h":25.57},{"v":14,"x":12.35,"l":17,"h":25.55},{"v":14,"x":15,"l":19.4,"h":25.43},
{"v":15,"x":7.96,"l":24.3,"h":25},{"v":15,"x":8.06,"l":23,"h":25.2},{"v":15,"x":8.22,"l":21,"h":25.42},{"v":15,"x":8.5,"l":19,"h":25.5},{"v":15,"x":8.8,"l":17,"h":25.54},{"v":15,"x":10,"l":17,"h":25.56},{"v":15,"x":11.94,"l":17,"h":25.54},{"v":15,"x":15,"l":19.77,"h":25.4},
{"v":16,"x":8,"l":24.3,"h":25},{"v":16,"x":8.1,"l":23,"h":25.2},{"v":16,"x":8.28,"l":21,"h":25.4},{"v":16,"x":8.6,"l":19,"h":25.5},{"v":16,"x":8.95,"l":17,"h":25.53},{"v":16,"x":10,"l":17,"h":25.55},{"v":16,"x":11.58,"l":17,"h":25.53},{"v":16,"x":15,"l":20.15,"h":25.37},
{"v":17,"x":8.05,"l":24.3,"h":25},{"v":17,"x":8.15,"l":23,"h":25.2},{"v":17,"x":8.36,"l":21,"h":25.4},{"v":17,"x":8.75,"l":19,"h":25.5},{"v":17,"x":9.2,"l":17,"h":25.52},{"v":17,"x":10,"l":17,"h":25.54},{"v":17,"x":11.05,"l":17,"h":25.52},{"v":17,"x":15,"l":20.5,"h":25.34},
{"v":18,"x":8.1,"l":24.3,"h":25.1},{"v":18,"x":8.25,"l":23,"h":25.4},{"v":18,"x":8.45,"l":20.4,"h":25.47},{"v":18,"x":8.85,"l":19,"h":25.5},{"v":18,"x":9.15,"l":17.3,"h":25.51},{"v":18,"x":9.5,"l":17,"h":25.52},{"v":18,"x":10,"l":17,"h":25.53},{"v":18,"x":10.52,"l":17,"h":25.52},{"v":18,"x":13.53,"l":19.4,"h":25.4},{"v":18,"x":15,"l":20.87,"h":25.3},
{"v":20,"x":8.2,"l":24.6,"h":25.09},{"v":20,"x":8.27,"l":24,"h":25.25},{"v":20,"x":8.36,"l":21.4,"h":25.38},{"v":20,"x":8.45,"l":20.4,"h":25.43},{"v":20,"x":8.86,"l":18.83,"h":25.48},{"v":20,"x":9.28,"l":18.05,"h":25.5},{"v":20,"x":9.51,"l":17.77,"h":25.5},{"v":20,"x":9.99,"l":17.64,"h":25.5},{"v":20,"x":10.87,"l":17.96,"h":25.47},{"v":20,"x":12.35,"l":18.96,"h":25.4},{"v":20,"x":13.83,"l":20.4,"h":25.28},{"v":20,"x":15,"l":21.59,"h":25.19},
{"v":25,"x":8.29,"l":24.47,"h":25},{"v":25,"x":8.33,"l":23.53,"h":25.1},{"v":25,"x":8.45,"l":22.28,"h":25.25},{"v":25,"x":8.79,"l":20.59,"h":25.4},{"v":25,"x":8.92,"l":20.24,"h":25.45},{"v":25,"x":9.4,"l":19.55,"h":25.5},{"v":25,"x":10.02,"l":19.27,"h":25.5},{"v":25,"x":10.64,"l":19.46,"h":25.45},{"v":25,"x":11.46,"l":19.99,"h":25.36},{"v":25,"x":12.5,"l":20.84,"h":25.27},{"v":25,"x":13.53,"l":21.9,"h":25.2},{"v":25,"x":14,"l":22.4,"h":25.17},{"v":25,"x":14.6,"l":22.96,"h":25.15},{"v":25,"x":15,"l":23.59,"h":25.13},
{"v":26,"x":8.3,"l":24.47,"h":25},{"v":26,"x":8.39,"l":23.21,"h":25.15},{"v":26,"x":8.51,"l":21.96,"h":25.25},{"v":26,"x":9,"l":20.34,"h":25.4},{"v":26,"x":9.5,"l":19.72,"h":25.44},{"v":26,"x":10.02,"l":19.58,"h":25.47},{"v":26,"x":10.52,"l":19.74,"h":25.44},{"v":26,"x":11.05,"l":20.02,"h":25.4},{"v":26,"x":12,"l":20.9,"h":25.3},{"v":26,"x":13,"l":21.77,"h":25.17},{"v":26,"x":14,"l":22.84,"h":25.07},{"v":26,"x":15,"l":23.87,"h":24.95},
{"v":27,"x":8.33,"l":24.47,"h":24.9},{"v":27,"x":8.45,"l":22.9,"h":25.12},{"v":27,"x":8.6,"l":21.96,"h":25.25},{"v":27,"x":9,"l":20.65,"h":25.37},{"v":27,"x":9.5,"l":20.05,"h":25.42},{"v":27,"x":10.02,"l":19.91,"h":25.44},{"v":27,"x":10.52,"l":20.05,"h":25.4},{"v":27,"x":11.05,"l":20.34,"h":25.35},{"v":27,"x":12,"l":21.21,"h":25.23},{"v":27,"x":13,"l":22.15,"h":25.13},{"v":27,"x":14,"l":23.21,"h":25.03},{"v":27,"x":14.54,"l":24,"h":25},{"v":27,"x":14.89,"l":24.5,"h":24.5},
{"v":28,"x":8.39,"l":24.47,"h":24.8},{"v":28,"x":8.51,"l":22.78,"h":25.05},{"v":28,"x":8.69,"l":21.9,"h":25.2},{"v":28,"x":9,"l":21,"h":25.34},{"v":28,"x":9.5,"l":20.4,"h":25.4},{"v":28,"x":10.02,"l":20.26,"h":25.41},{"v":28,"x":10.52,"l":20.39,"h":25.38},{"v":28,"x":11.05,"l":20.65,"h":25.32},{"v":28,"x":12,"l":21.53,"h":25.18},{"v":28,"x":13,"l":22.5,"h":25.08},{"v":28,"x":14,"l":23.59,"h":25.01},{"v":28,"x":14.18,"l":24,"h":25},{"v":28,"x":14.55,"l":24.5,"h":24.5},
{"v":29,"x":8.45,"l":24.48,"h":24.75},{"v":29,"x":8.63,"l":22.78,"h":25.1},{"v":29,"x":9,"l":21.34,"h":25.28},{"v":29,"x":9.5,"l":20.74,"h":25.37},{"v":29,"x":10.02,"l":20.6,"h":25.38},{"v":29,"x":10.52,"l":20.71,"h":25.35},{"v":29,"x":11.05,"l":21,"h":25.3},{"v":29,"x":12,"l":21.84,"h":25.15},{"v":29,"x":13,"l":22.84,"h":25.05},{"v":29,"x":13.77,"l":23.71,"h":25},{"v":29,"x":13.86,"l":23.85,"h":25},{"v":29,"x":14.22,"l":24.48,"h":24.48},
{"v":30,"x":8.48,"l":24.47,"h":24.9},{"v":30,"x":8.51,"l":23.84,"h":25},{"v":30,"x":8.69,"l":22.59,"h":25.2},{"v":30,"x":9,"l":21.68,"h":25.3},{"v":30,"x":9.5,"l":21.05,"h":25.42},{"v":30,"x":10.02,"l":20.93,"h":25.44},{"v":30,"x":10.52,"l":21.02,"h":25.4},{"v":30,"x":11.05,"l":21.31,"h":25.35},{"v":30,"x":12,"l":22.12,"h":25.22},{"v":30,"x":13,"l":23.09,"h":25.07},{"v":30,"x":13.53,"l":23.71,"h":25},{"v":30,"x":13.89,"l":24.47,"h":24.47},
{"v":31,"x":8.56,"l":24.47,"h":24.85},{"v":31,"x":8.65,"l":23.34,"h":25.1},{"v":31,"x":9,"l":22.09,"h":25.25},{"v":31,"x":9.5,"l":21.4,"h":25.38},{"v":31,"x":10.02,"l":21.26,"h":25.4},{"v":31,"x":10.52,"l":21.37,"h":25.36},{"v":31,"x":11.05,"l":21.65,"h":25.3},{"v":31,"x":12,"l":22.46,"h":25.17},{"v":31,"x":13,"l":23.43,"h":25.03},{"v":31,"x":13.2,"l":23.8,"h":25},{"v":31,"x":13.56,"l":24.47,"h":24.47},
{"v":32,"x":8.66,"l":24.48,"h":24.85},{"v":32,"x":8.72,"l":23.6,"h":25.1},{"v":32,"x":9,"l":22.4,"h":25.2},{"v":32,"x":9.5,"l":21.74,"h":25.35},{"v":32,"x":10,"l":21.62,"h":25.37},{"v":32,"x":10.52,"l":21.74,"h":25.33},{"v":32,"x":11,"l":22,"h":25.28},{"v":32,"x":12,"l":22.77,"h":25.15},{"v":32,"x":12.88,"l":23.8,"h":25},{"v":32,"x":13.2,"l":24.48,"h":24.48},
{"v":33,"x":8.75,"l":24.48,"h":24.95},{"v":33,"x":8.78,"l":23.7,"h":25.05},{"v":33,"x":9,"l":22.77,"h":25.17},{"v":33,"x":9.5,"l":22.12,"h":25.3},{"v":33,"x":10,"l":21.96,"h":25.33},{"v":33,"x":10.52,"l":22.09,"h":25.3},{"v":33,"x":11,"l":22.31,"h":25.25},{"v":33,"x":12,"l":23.15,"h":25.12},{"v":33,"x":12.47,"l":23.7,"h":25},{"v":33,"x":12.86,"l":24.48,"h":24.48},
{"v":34,"x":8.81,"l":24.48,"h":25},{"v":34,"x":8.85,"l":23.6,"h":25.05},{"v":34,"x":9,"l":23.09,"h":25.15},{"v":34,"x":9.5,"l":22.46,"h":25.25},{"v":34,"x":10,"l":22.31,"h":25.28},{"v":34,"x":10.52,"l":22.4,"h":25.26},{"v":34,"x":11,"l":22.65,"h":25.2},{"v":34,"x":12,"l":23.5,"h":25.07},{"v":34,"x":12.2,"l":23.8,"h":25},{"v":34,"x":12.5,"l":24.48,"h":24.48},
{"v":35,"x":8.88,"l":24.48,"h":24.95},{"v":35,"x":8.91,"l":23.9,"h":25.05},{"v":35,"x":9,"l":23.46,"h":25.13},{"v":35,"x":9.5,"l":22.77,"h":25.2},{"v":35,"x":10,"l":22.66,"h":25.22},{"v":35,"x":10.52,"l":22.74,"h":25.2},{"v":35,"x":11,"l":22.96,"h":25.14},{"v":35,"x":11.7,"l":23.7,"h":25},{"v":35,"x":12,"l":23.97,"h":24.7},{"v":35,"x":12.11,"l":24.48,"h":24.48},
{"v":36,"x":8.98,"l":24.48,"h":24.9},{"v":36,"x":9,"l":23.87,"h":25},{"v":36,"x":9.5,"l":23.18,"h":25.05},{"v":36,"x":10,"l":23.06,"h":25.1},{"v":36,"x":10.52,"l":23.18,"h":25.08},{"v":36,"x":11,"l":23.5,"h":25.03},{"v":36,"x":11.26,"l":23.8,"h":25},{"v":36,"x":11.73,"l":24.48,"h":24.48},
{"v":37,"x":9.17,"l":24.48,"h":24.48},{"v":37,"x":9.43,"l":23.75,"h":25},{"v":37,"x":9.5,"l":23.62,"h":25},{"v":37,"x":10,"l":23.43,"h":25.03},{"v":37,"x":10.52,"l":23.59,"h":25.02},{"v":37,"x":10.75,"l":23.8,"h":25},{"v":37,"x":11.29,"l":24.48,"h":24.48},
{"v":38,"x":9.43,"l":24.48,"h":24.48},{"v":38,"x":9.52,"l":24.18,"h":24.62},{"v":38,"x":10,"l":23.9,"h":24.84},{"v":38,"x":10.52,"l":24.15,"h":24.65},{"v":38,"x":10.74,"l":24.48,"h":24.48}],
"ba":[{"v":0,"t":0.02},{"v":0.01,"t":0.03},{"v":0.02,"t":0.04},{"v":0.03,"t":0.05},{"v":0.04,"t":0.06},{"v":0.05,"t":0.07},{"v":0.06,"t":0.08},{"v":0.07,"t":0.09},{"v":0.08,"t":0.1},{"v":0.09,"t":0.11},{"v":0.1,"t":0.12},{"v":0.11,"t":0.13},{"v":0.12,"t":0.14},{"v":0.13,"t":0.15},{"v":0.14,"t":0.16},{"v":0.15,"t":0.17},{"v":0.16,"t":0.18},{"v":0.17,"t":0.19},{"v":0.18,"t":0.2},{"v":0.19,"t":0.21},{"v":0.2,"t":0.22},{"v":0.21,"t":0.23},{"v":0.22,"t":0.24},{"v":0.23,"t":0.25},{"v":0.24,"t":0.25}],
"bc":[{"v":0,"t":0.002},{"v":0.001,"t":0.003},{"v":0.002,"t":0.004},{"v":0.003,"t":0.005},{"v":0.004,"t":0.006},{"v":0.005,"t":0.007},{"v":0.006,"t":0.008},{"v":0.007,"t":0.009},{"v":0.008,"t":0.01},{"v":0.009,"t":0.011},{"v":0.01,"t":0.012},{"v":0.011,"t":0.013},{"v":0.012,"t":0.014},{"v":0.013,"t":0.015},{"v":0.014,"t":0.016},{"v":0.015,"t":0.017},{"v":0.016,"t":0.018},{"v":0.017,"t":0.019},{"v":0.018,"t":0.02},{"v":0.019,"t":0.021},{"v":0.02,"t":0.022},{"v":0.021,"t":0.023},{"v":0.022,"t":0.024},{"v":0.023,"t":0.025},{"v":0.024,"t":0.026},{"v":0.025,"t":0.027},{"v":0.026,"t":0.028},{"v":0.027,"t":0.029},{"v":0.028,"t":0.03},{"v":0.029,"t":0.03}],
"bd":[{"v":0,"t":2},{"v":1,"t":3},{"v":2,"t":4},{"v":3,"t":5},{"v":4,"t":6},{"v":5,"t":7},{"v":6,"t":8},{"v":7,"t":9},{"v":8,"t":10},{"v":9,"t":11},{"v":10,"t":12},{"v":11,"t":13},{"v":12,"t":14},{"v":13,"t":15},{"v":14,"t":16},{"v":15,"t":17},{"v":16,"t":18},{"v":17,"t":19},{"v":18,"t":20},{"v":19,"t":21},{"v":20,"t":22},{"v":21,"t":23},{"v":22,"t":24},{"v":23,"t":25},{"v":24,"t":26},{"v":25,"t":27},{"v":26,"t":28},{"v":27,"t":29},{"v":28,"t":30},{"v":29,"t":31},{"v":30,"t":32},{"v":31,"t":33},{"v":32,"t":34},{"v":33,"t":35},{"v":34,"t":36},{"v":35,"t":37},{"v":36,"t":38},{"v":37,"t":39},{"v":38,"t":40},{"v":39,"t":40}],
"o":[{"x":6,"y":17}]
},
"vconcat":[
{"bounds":"flush","spacing":0,"center":true,"resolve":{"scale":{"color":"independent"}},"hconcat":[
{"width":209,"height":1,"view":{"stroke":null},"data":{"name":"o"},"mark":{"type":"point","opacity":0},"encoding":{}},
{"width":951,"height":912,"view":{"stroke":"black","strokeWidth":3},"data":{"name":"a"},"resolve":{"axis":{"x":"independent","y":"independent"}},"layer":[
{"mark":{"type":"area"},"encoding":{"x":{"field":"x","type":"quantitative","scale":{"domain":[6,15],"nice":false,"zero":false},"axis":{"orient":"bottom","values":[6,7,8,9,10,11,12,13,14,15],"format":"d","tickSize":18,"labelPadding":15,"title":"T\u00a0\u00a0\u00a0(°C)","titlePadding":26}},"y":{"field":"l","type":"quantitative","scale":{"domain":[17,26.5],"nice":false,"zero":false},"axis":{"orient":"left","values":[17,18,19,20,21,22,23,24,25,26],"format":"d","tickSize":18,"labelPadding":10,"title":"T\u00a0\u00a0\u00a0(°C)","titlePadding":25}},"y2":{"field":"h"},"detail":{"field":"v"},"color":{"field":"v","type":"quantitative","legend":null,"scale":{"interpolate":"rgb","domain":[0,0.06,0.07,0.1,0.11,0.15,0.16,0.17,0.18,0.19,0.24],"range":["#0000ff","#00ffff","#00ffd5","#00ff55","#00ff00","#00ff00","#80ff00","#c0ff00","#ffff00","#ffd500","#ff0000"]}}}},
{"transform":[{"filter":{"field":"v","oneOf":[0.05,0.1,0.15,0.2]}}],"mark":{"type":"area","fillOpacity":0,"stroke":"#444444","strokeWidth":1.5,"strokeDash":[1.5,7]},"encoding":{"x":{"field":"x","type":"quantitative","axis":{"orient":"top","ticks":false,"labels":false,"title":null}},"y":{"field":"l","type":"quantitative","axis":{"orient":"right","ticks":false,"labels":false,"title":null}},"y2":{"field":"h"},"detail":{"field":"v"}}},
{"data":{"name":"o"},"mark":{"type":"point","opacity":0},"encoding":{"x":{"field":"x","type":"quantitative","axis":{"orient":"bottom","values":[6.5,7.5,8.5,9.5,10.5,11.5,12.5,13.5,14.5],"tickSize":9,"labels":false,"domain":false,"title":null}},"y":{"field":"y","type":"quantitative","axis":{"orient":"left","values":[17.5,18.5,19.5,20.5,21.5,22.5,23.5,24.5,25.5],"tickSize":9,"labels":false,"domain":false,"title":null}}}},
{"data":{"values":[{"x":10.17,"y":15.49,"t":"c"}]},"mark":{"type":"text","font":"Liberation Sans","fontSize":30,"color":"black","baseline":"alphabetic"},"encoding":{"x":{"field":"x","type":"quantitative","axis":null},"y":{"field":"y","type":"quantitative","axis":null},"text":{"field":"t"}}},
{"data":{"values":[{"x":5.11,"y":21.39,"t":"e"}]},"mark":{"type":"text","font":"Liberation Sans","fontSize":30,"color":"black","angle":270,"baseline":"alphabetic"},"encoding":{"x":{"field":"x","type":"quantitative","axis":null},"y":{"field":"y","type":"quantitative","axis":null},"text":{"field":"t"}}},
{"data":{"values":[{"x":11.72,"y":14.53,"t":"(a)"}]},"mark":{"type":"text","font":"Liberation Serif","fontWeight":"bold","fontSize":76,"color":"black","baseline":"middle"},"encoding":{"x":{"field":"x","type":"quantitative","axis":null},"y":{"field":"y","type":"quantitative","axis":null},"text":{"field":"t"}}}]},
{"width":93,"height":1,"view":{"stroke":null},"data":{"name":"o"},"mark":{"type":"point","opacity":0},"encoding":{}},
{"width":75,"height":912,"view":{"stroke":"black","strokeWidth":2},"layer":[
{"data":{"name":"ba"},"mark":{"type":"rect"},"encoding":{"x":{"datum":0,"type":"quantitative","scale":{"domain":[0,1],"nice":false},"axis":null},"x2":{"datum":1},"y":{"field":"v","type":"quantitative","scale":{"domain":[-0.00975,0.26],"nice":false,"zero":false},"axis":{"orient":"right","values":[0,0.05,0.1,0.15,0.2,0.25],"format":".2f","tickSize":17,"tickWidth":2,"domain":false,"labelFontSize":31,"labelPadding":12,"title":null}},"y2":{"field":"t"},"color":{"field":"v","type":"quantitative","legend":null,"scale":{"interpolate":"rgb","domain":[0,0.06,0.07,0.1,0.11,0.15,0.16,0.17,0.18,0.19,0.24],"range":["#0000ff","#00ffff","#00ffd5","#00ff55","#00ff00","#00ff00","#80ff00","#c0ff00","#ffff00","#ffd500","#ff0000"]}}}},
{"data":{"values":[{"u":0.5,"y":0.2689,"t":"γ (kW/m²)"}]},"mark":{"type":"text","font":"Liberation Sans","fontSize":46,"color":"black","baseline":"alphabetic"},"encoding":{"x":{"field":"u","type":"quantitative"},"y":{"field":"y","type":"quantitative"},"text":{"field":"t"}}}]},
{"width":521,"height":1,"view":{"stroke":null},"data":{"name":"o"},"mark":{"type":"point","opacity":0},"encoding":{}},
{"width":973,"height":934,"view":{"stroke":"black","strokeWidth":3},"data":{"name":"b"},"resolve":{"axis":{"x":"independent","y":"independent"}},"layer":[
{"mark":{"type":"area"},"encoding":{"x":{"field":"x","type":"quantitative","scale":{"domain":[6,15],"nice":false,"zero":false},"axis":{"orient":"bottom","values":[6,7,8,9,10,11,12,13,14,15],"format":"d","tickSize":18,"labelPadding":15,"title":"T\u00a0\u00a0\u00a0(°C)","titlePadding":32}},"y":{"field":"l","type":"quantitative","scale":{"domain":[17,26.5],"nice":false,"zero":false},"axis":{"orient":"left","values":[17,18,19,20,21,22,23,24,25,26],"format":"d","tickSize":18,"labelPadding":10,"title":"T\u00a0\u00a0\u00a0(°C)","titlePadding":29}},"y2":{"field":"h"},"detail":{"field":"v"},"color":{"field":"v","type":"quantitative","legend":null,"scale":{"interpolate":"rgb","domain":[0,0.06,0.07,0.1,0.11,0.15,0.16,0.17,0.18,0.19,0.24],"range":["#0000ff","#00ffff","#00ffd5","#00ff55","#00ff00","#00ff00","#80ff00","#c0ff00","#ffff00","#ffd500","#ff0000"]}}}},
{"transform":[{"filter":{"field":"v","oneOf":[0.05,0.1,0.15,0.2]}}],"mark":{"type":"area","fillOpacity":0,"stroke":"#444444","strokeWidth":1.5,"strokeDash":[1.5,7]},"encoding":{"x":{"field":"x","type":"quantitative","axis":{"orient":"top","ticks":false,"labels":false,"title":null}},"y":{"field":"l","type":"quantitative","axis":{"orient":"right","ticks":false,"labels":false,"title":null}},"y2":{"field":"h"},"detail":{"field":"v"}}},
{"data":{"name":"o"},"mark":{"type":"point","opacity":0},"encoding":{"x":{"field":"x","type":"quantitative","axis":{"orient":"bottom","values":[6.5,7.5,8.5,9.5,10.5,11.5,12.5,13.5,14.5],"tickSize":9,"labels":false,"domain":false,"title":null}},"y":{"field":"y","type":"quantitative","axis":{"orient":"left","values":[17.5,18.5,19.5,20.5,21.5,22.5,23.5,24.5,25.5],"tickSize":9,"labels":false,"domain":false,"title":null}}}},
{"data":{"values":[{"x":10.16,"y":15.5,"t":"c"}]},"mark":{"type":"text","font":"Liberation Sans","fontSize":30,"color":"black","baseline":"alphabetic"},"encoding":{"x":{"field":"x","type":"quantitative","axis":null},"y":{"field":"y","type":"quantitative","axis":null},"text":{"field":"t"}}},
{"data":{"values":[{"x":5.11,"y":21.4,"t":"e"}]},"mark":{"type":"text","font":"Liberation Sans","fontSize":30,"color":"black","angle":270,"baseline":"alphabetic"},"encoding":{"x":{"field":"x","type":"quantitative","axis":null},"y":{"field":"y","type":"quantitative","axis":null},"text":{"field":"t"}}},
{"data":{"values":[{"x":11.55,"y":14.71,"t":"(b)"}]},"mark":{"type":"text","font":"Liberation Serif","fontWeight":"bold","fontSize":76,"color":"black","baseline":"middle"},"encoding":{"x":{"field":"x","type":"quantitative","axis":null},"y":{"field":"y","type":"quantitative","axis":null},"text":{"field":"t"}}}]},
{"width":69,"height":1,"view":{"stroke":null},"data":{"name":"o"},"mark":{"type":"point","opacity":0},"encoding":{}},
{"width":75,"height":934,"view":{"stroke":"black","strokeWidth":2},"layer":[
{"data":{"name":"ba"},"mark":{"type":"rect"},"encoding":{"x":{"datum":0,"type":"quantitative","scale":{"domain":[0,1],"nice":false},"axis":null},"x2":{"datum":1},"y":{"field":"v","type":"quantitative","scale":{"domain":[-0.0098,0.2598],"nice":false,"zero":false},"axis":{"orient":"right","values":[0,0.05,0.1,0.15,0.2,0.25],"format":".2f","tickSize":17,"tickWidth":2,"domain":false,"labelFontSize":31,"labelPadding":12,"title":null}},"y2":{"field":"t"},"color":{"field":"v","type":"quantitative","legend":null,"scale":{"interpolate":"rgb","domain":[0,0.06,0.07,0.1,0.11,0.15,0.16,0.17,0.18,0.19,0.24],"range":["#0000ff","#00ffff","#00ffd5","#00ff55","#00ff00","#00ff00","#80ff00","#c0ff00","#ffff00","#ffd500","#ff0000"]}}}},
{"data":{"values":[{"u":0.25,"y":0.2722,"t":"η"}]},"mark":{"type":"text","font":"Liberation Serif","fontSize":46,"color":"black","baseline":"alphabetic"},"encoding":{"x":{"field":"u","type":"quantitative"},"y":{"field":"y","type":"quantitative"},"text":{"field":"t"}}},
{"data":{"values":[{"u":0.67,"y":0.2688,"t":"ex"}]},"mark":{"type":"text","font":"Liberation Sans","fontSize":31,"color":"black","baseline":"alphabetic"},"encoding":{"x":{"field":"u","type":"quantitative"},"y":{"field":"y","type":"quantitative"},"text":{"field":"t"}}}]}
]},
{"bounds":"flush","spacing":0,"center":true,"resolve":{"scale":{"color":"independent"}},"hconcat":[
{"width":176,"height":1,"view":{"stroke":null},"data":{"name":"o"},"mark":{"type":"point","opacity":0},"encoding":{}},
{"width":1030,"height":989,"view":{"stroke":"black","strokeWidth":3},"data":{"name":"c"},"resolve":{"axis":{"x":"independent","y":"independent"}},"layer":[
{"mark":{"type":"area"},"encoding":{"x":{"field":"x","type":"quantitative","scale":{"domain":[6,15],"nice":false,"zero":false},"axis":{"orient":"bottom","values":[6,7,8,9,10,11,12,13,14,15],"format":"d","tickSize":18,"labelPadding":16,"title":"T\u00a0\u00a0\u00a0(°C)","titlePadding":44}},"y":{"field":"l","type":"quantitative","scale":{"domain":[17,26.5],"nice":false,"zero":false},"axis":{"orient":"left","values":[17,18,19,20,21,22,23,24,25,26],"format":"d","tickSize":18,"labelPadding":10,"title":"T\u00a0\u00a0\u00a0(°C)","titlePadding":34}},"y2":{"field":"h"},"detail":{"field":"v"},"color":{"field":"v","type":"quantitative","legend":null,"scale":{"interpolate":"rgb","domain":[0,0.007,0.008,0.009,0.013,0.014,0.018,0.019,0.02,0.021,0.022,0.023,0.029],"range":["#0000ff","#00ffff","#00ffdd","#00ffb0","#00ff30","#00ff00","#00ff00","#33ff00","#88ff00","#ccff00","#ffff00","#ffd500","#ff0000"]}}}},
{"transform":[{"filter":{"field":"v","oneOf":[0.005,0.01,0.015,0.02,0.025]}}],"mark":{"type":"area","fillOpacity":0,"stroke":"#444444","strokeWidth":1.5,"strokeDash":[1.5,7]},"encoding":{"x":{"field":"x","type":"quantitative","axis":{"orient":"top","ticks":false,"labels":false,"title":null}},"y":{"field":"l","type":"quantitative","axis":{"orient":"right","ticks":false,"labels":false,"title":null}},"y2":{"field":"h"},"detail":{"field":"v"}}},
{"data":{"name":"o"},"mark":{"type":"point","opacity":0},"encoding":{"x":{"field":"x","type":"quantitative","axis":{"orient":"bottom","values":[6.5,7.5,8.5,9.5,10.5,11.5,12.5,13.5,14.5],"tickSize":9,"labels":false,"domain":false,"title":null}},"y":{"field":"y","type":"quantitative","axis":{"orient":"left","values":[17.5,18.5,19.5,20.5,21.5,22.5,23.5,24.5,25.5],"tickSize":9,"labels":false,"domain":false,"title":null}}}},
{"data":{"values":[{"x":10.19,"y":15.52,"t":"c"}]},"mark":{"type":"text","font":"Liberation Sans","fontSize":30,"color":"black","baseline":"alphabetic"},"encoding":{"x":{"field":"x","type":"quantitative","axis":null},"y":{"field":"y","type":"quantitative","axis":null},"text":{"field":"t"}}},
{"data":{"values":[{"x":5.09,"y":21.39,"t":"e"}]},"mark":{"type":"text","font":"Liberation Sans","fontSize":30,"color":"black","angle":270,"baseline":"alphabetic"},"encoding":{"x":{"field":"x","type":"quantitative","axis":null},"y":{"field":"y","type":"quantitative","axis":null},"text":{"field":"t"}}},
{"data":{"values":[{"x":11.57,"y":14.73,"t":"(c)"}]},"mark":{"type":"text","font":"Liberation Serif","fontWeight":"bold","fontSize":76,"color":"black","baseline":"middle"},"encoding":{"x":{"field":"x","type":"quantitative","axis":null},"y":{"field":"y","type":"quantitative","axis":null},"text":{"field":"t"}}}]},
{"width":74,"height":1,"view":{"stroke":null},"data":{"name":"o"},"mark":{"type":"point","opacity":0},"encoding":{}},
{"width":80,"height":989,"view":{"stroke":"black","strokeWidth":2},"layer":[
{"data":{"name":"bc"},"mark":{"type":"rect"},"encoding":{"x":{"datum":0,"type":"quantitative","scale":{"domain":[0,1],"nice":false},"axis":null},"x2":{"datum":1},"y":{"field":"v","type":"quantitative","scale":{"domain":[-0.00103,0.03097],"nice":false,"zero":false},"axis":{"orient":"right","values":[0,0.005,0.01,0.015,0.02,0.025,0.03],"format":".3f","tickSize":17,"tickWidth":2,"domain":false,"labelFontSize":31,"labelPadding":12,"title":null}},"y2":{"field":"t"},"color":{"field":"v","type":"quantitative","legend":null,"scale":{"interpolate":"rgb","domain":[0,0.007,0.008,0.009,0.013,0.014,0.018,0.019,0.02,0.021,0.022,0.023,0.029],"range":["#0000ff","#00ffff","#00ffdd","#00ffb0","#00ff30","#00ff00","#00ff00","#33ff00","#88ff00","#ccff00","#ffff00","#ffd500","#ff0000"]}}}},
{"data":{"values":[{"u":-0.125,"y":0.0324,"t":"η"}]},"mark":{"type":"text","font":"Liberation Serif","fontSize":46,"color":"black","baseline":"alphabetic"},"encoding":{"x":{"field":"u","type":"quantitative"},"y":{"field":"y","type":"quantitative"},"text":{"field":"t"}}},
{"data":{"values":[{"u":0.69,"y":0.03197,"t":"OTEC"}]},"mark":{"type":"text","font":"Liberation Sans","fontSize":34,"color":"black","baseline":"alphabetic"},"encoding":{"x":{"field":"u","type":"quantitative"},"y":{"field":"y","type":"quantitative"},"text":{"field":"t"}}}]},
{"width":456,"height":1,"view":{"stroke":null},"data":{"name":"o"},"mark":{"type":"point","opacity":0},"encoding":{}},
{"width":1001,"height":957,"view":{"stroke":"black","strokeWidth":3},"data":{"name":"d"},"resolve":{"axis":{"x":"independent","y":"independent"}},"layer":[
{"mark":{"type":"area"},"encoding":{"x":{"field":"x","type":"quantitative","scale":{"domain":[6,15],"nice":false,"zero":false},"axis":{"orient":"bottom","values":[6,7,8,9,10,11,12,13,14,15],"format":"d","tickSize":18,"labelPadding":15,"title":"T\u00a0\u00a0\u00a0(°C)","titlePadding":41}},"y":{"field":"l","type":"quantitative","scale":{"domain":[17,26.5],"nice":false,"zero":false},"axis":{"orient":"left","values":[17,18,19,20,21,22,23,24,25,26],"format":"d","tickSize":18,"labelPadding":10,"title":"T\u00a0\u00a0\u00a0(°C)","titlePadding":30}},"y2":{"field":"h"},"detail":{"field":"v"},"color":{"field":"v","type":"quantitative","legend":null,"scale":{"interpolate":"rgb","domain":[0,10,11,12,17,18,25,26,27,28,29,30,39],"range":["#0000ff","#00ffff","#00ffff","#00ffdd","#00ff40","#00ff00","#00ff00","#80ff00","#aaff00","#d5ff00","#ffff00","#ffe000","#ff0000"]}}}},
{"transform":[{"filter":{"field":"v","oneOf":[5,10,15,20,25,30,35]}}],"mark":{"type":"area","fillOpacity":0,"stroke":"#444444","strokeWidth":1.5,"strokeDash":[1.5,7]},"encoding":{"x":{"field":"x","type":"quantitative","axis":{"orient":"top","ticks":false,"labels":false,"title":null}},"y":{"field":"l","type":"quantitative","axis":{"orient":"right","ticks":false,"labels":false,"title":null}},"y2":{"field":"h"},"detail":{"field":"v"}}},
{"data":{"name":"o"},"mark":{"type":"point","opacity":0},"encoding":{"x":{"field":"x","type":"quantitative","axis":{"orient":"bottom","values":[6.5,7.5,8.5,9.5,10.5,11.5,12.5,13.5,14.5],"tickSize":9,"labels":false,"domain":false,"title":null}},"y":{"field":"y","type":"quantitative","axis":{"orient":"left","values":[17.5,18.5,19.5,20.5,21.5,22.5,23.5,24.5,25.5],"tickSize":9,"labels":false,"domain":false,"title":null}}}},
{"data":{"values":[{"x":10.17,"y":15.51,"t":"c"}]},"mark":{"type":"text","font":"Liberation Sans","fontSize":30,"color":"black","baseline":"alphabetic"},"encoding":{"x":{"field":"x","type":"quantitative","axis":null},"y":{"field":"y","type":"quantitative","axis":null},"text":{"field":"t"}}},
{"data":{"values":[{"x":5.12,"y":21.42,"t":"e"}]},"mark":{"type":"text","font":"Liberation Sans","fontSize":30,"color":"black","angle":270,"baseline":"alphabetic"},"encoding":{"x":{"field":"x","type":"quantitative","axis":null},"y":{"field":"y","type":"quantitative","axis":null},"text":{"field":"t"}}},
{"data":{"values":[{"x":11.69,"y":14.5,"t":"(d)"}]},"mark":{"type":"text","font":"Liberation Serif","fontWeight":"bold","fontSize":76,"color":"black","baseline":"middle"},"encoding":{"x":{"field":"x","type":"quantitative","axis":null},"y":{"field":"y","type":"quantitative","axis":null},"text":{"field":"t"}}}]},
{"width":95,"height":1,"view":{"stroke":null},"data":{"name":"o"},"mark":{"type":"point","opacity":0},"encoding":{}},
{"width":78,"height":957,"view":{"stroke":"black","strokeWidth":2},"layer":[
{"data":{"name":"bd"},"mark":{"type":"rect"},"encoding":{"x":{"datum":0,"type":"quantitative","scale":{"domain":[0,1],"nice":false},"axis":null},"x2":{"datum":1},"y":{"field":"v","type":"quantitative","scale":{"domain":[-1,40.96],"nice":false,"zero":false},"axis":{"orient":"right","values":[0,5,10,15,20,25,30,35,40],"format":"d","tickSize":17,"tickWidth":2,"domain":false,"labelFontSize":31,"labelPadding":12,"title":null}},"y2":{"field":"t"},"color":{"field":"v","type":"quantitative","legend":null,"scale":{"interpolate":"rgb","domain":[0,10,11,12,17,18,25,26,27,28,29,30,39],"range":["#0000ff","#00ffff","#00ffff","#00ffdd","#00ff40","#00ff00","#00ff00","#80ff00","#aaff00","#d5ff00","#ffff00","#ffe000","#ff0000"]}}}},
{"data":{"values":[{"u":-0.58,"y":42.75,"t":"W"},{"u":1.19,"y":42.75,"t":"(kW)"}]},"mark":{"type":"text","font":"Liberation Sans","fontSize":47,"color":"black","baseline":"alphabetic"},"encoding":{"x":{"field":"u","type":"quantitative"},"y":{"field":"y","type":"quantitative"},"text":{"field":"t"}}},
{"data":{"values":[{"u":0.04,"y":42.45,"t":"net"}]},"mark":{"type":"text","font":"Liberation Sans","fontSize":33,"color":"black","baseline":"alphabetic"},"encoding":{"x":{"field":"u","type":"quantitative"},"y":{"field":"y","type":"quantitative"},"text":{"field":"t"}}}]}
]}
]}
